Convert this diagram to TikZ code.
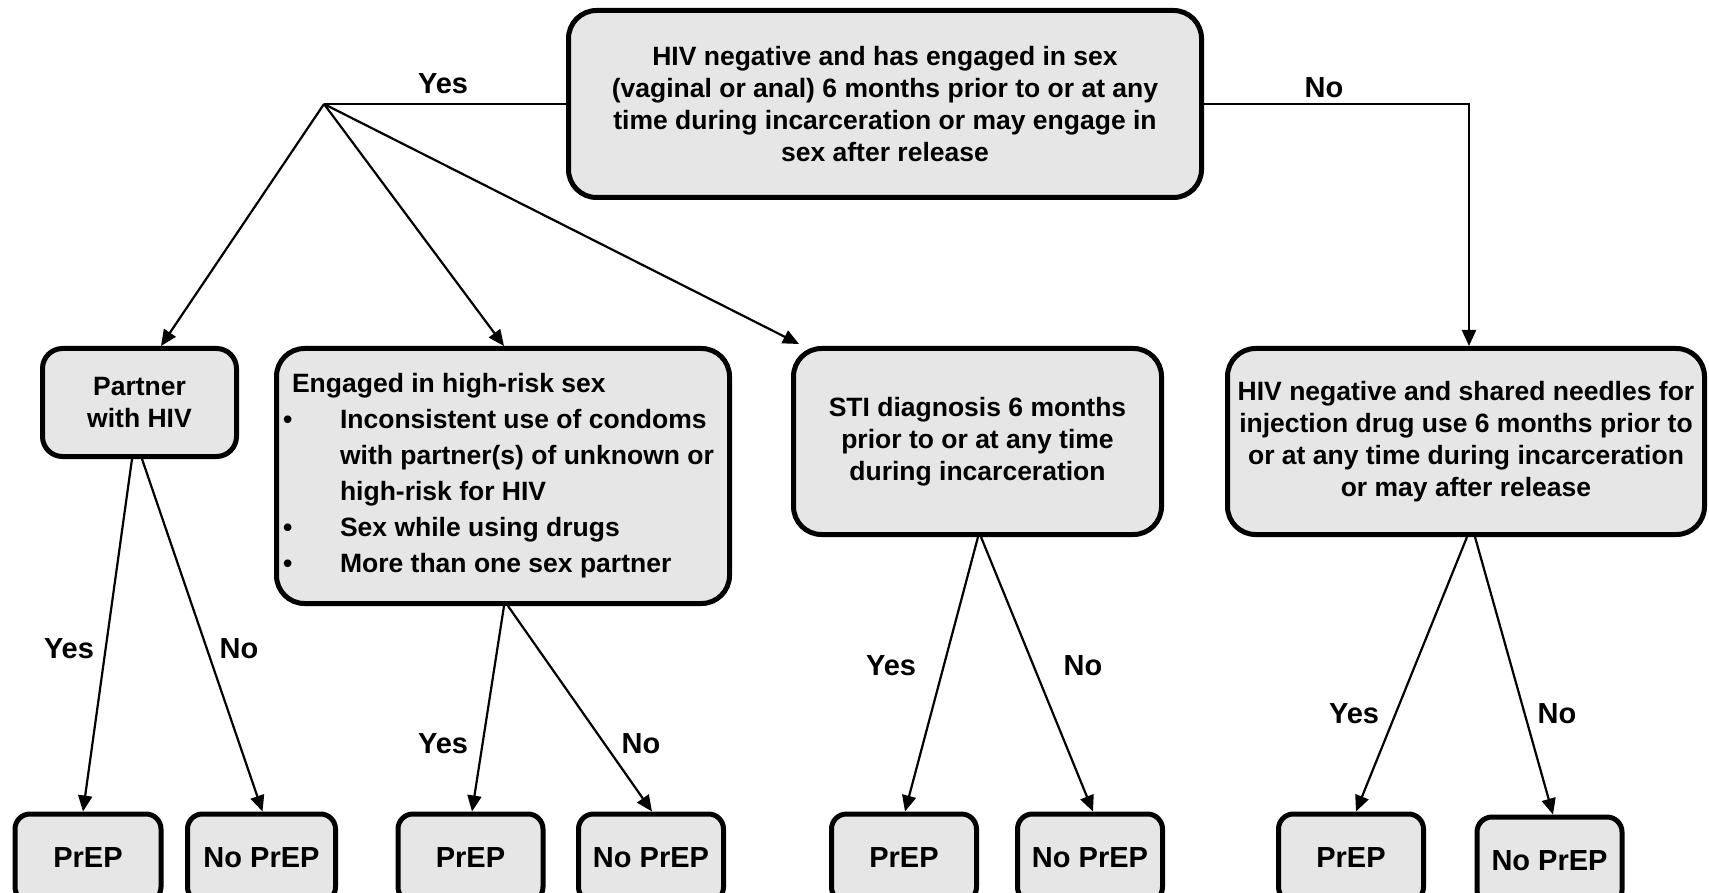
\documentclass[tikz,border=0pt]{standalone}
\usepackage{fontspec}
\setmainfont{Liberation Sans}
\usetikzlibrary{arrows.meta,calc}
\definecolor{boxfill}{HTML}{E6E6E6}
\begin{document}
\begin{tikzpicture}[x=1pt,y=-1pt,
  box/.style={draw=black, line width=5pt, fill=boxfill, rounded corners=28pt,
    font=\fontsize{26.5}{32}\selectfont\bfseries, align=center, inner sep=0pt},
  leaf/.style={box, rounded corners=15pt, minimum width=145pt, minimum height=88pt,
    font=\fontsize{29}{34}\selectfont\bfseries},
  conn/.style={line width=2.2pt, -{Triangle[length=16pt,width=14pt]}},
  plain/.style={line width=2.2pt},
  lbl/.style={font=\fontsize{29}{34}\selectfont\bfseries, inner sep=0pt}]
\useasboundingbox (0,0) rectangle (1709,893);
\clip (0,0) rectangle (1709,893);

% main boxes
\node[box, minimum width=633pt, minimum height=187pt] (top) at (885,104)
  {HIV negative and has engaged in sex\\(vaginal or anal) 6 months prior to or at any\\time during incarceration or may engage in\\sex after release};
\node[box, rounded corners=20pt, minimum width=194pt, minimum height=108pt] (partner) at (139.5,402.5)
  {Partner\\with HIV};
\node[box, minimum width=453pt, minimum height=255pt, align=left,
      font=\fontsize{26.5}{36}\selectfont\bfseries] (eng) at (503,476)
  {Engaged in high-risk sex\\
   \hspace*{-9pt}\makebox[57pt][l]{\textbullet}Inconsistent use of condoms\\
   \hspace*{48pt}with partner(s) of unknown or\\
   \hspace*{48pt}high-risk for HIV\\
   \hspace*{-9pt}\makebox[57pt][l]{\textbullet}Sex while using drugs\\
   \hspace*{-9pt}\makebox[57pt][l]{\textbullet}More than one sex partner};
\node[box, minimum width=368pt, minimum height=186pt] (sti) at (977.5,441.5)
  {STI diagnosis 6 months\\prior to or at any time\\during incarceration};
\node[box, minimum width=477pt, minimum height=186pt] (needle) at (1466,441.5)
  {HIV negative and shared needles for\\injection drug use 6 months prior to\\or at any time during incarceration\\or may after release};

% leaves
\node[leaf, minimum width=146pt] (p1) at (88,858) {PrEP};
\node[leaf, minimum width=148pt] (n1) at (261.5,858) {No PrEP};
\node[leaf] (p2) at (470.5,858) {PrEP};
\node[leaf] (n2) at (651,858) {No PrEP};
\node[leaf] (p3) at (904,858) {PrEP};
\node[leaf] (n3) at (1090,858) {No PrEP};
\node[leaf] (p4) at (1351,858) {PrEP};
\node[leaf] (n4) at (1549.5,861) {No PrEP};

% top connectors
\coordinate (J) at (324,104);
\draw[plain] (top.west) -- (J);
\draw[conn] (J) -- ([xshift=21.5pt]partner.north);
\draw[conn] (J) -- ([xshift=1pt]eng.north);
\draw[conn] (J) -- ([xshift=8pt,yshift=2pt]sti.north west);
\draw[conn] (top.east) -| ([xshift=3pt]needle.north);
\node[lbl] (yes0) at (443,84) {Yes};
\node[lbl] (no0) at (1324,88) {No};

% lower connectors
\draw[conn] ([xshift=-7.5pt]partner.south) -- ([xshift=-5pt]p1.north);
\draw[conn] ([xshift=2.5pt]partner.south) -- ([xshift=1pt]n1.north);
\draw[conn] ([xshift=1pt]eng.south) -- ([xshift=1.5pt]p2.north);
\draw[conn] ([xshift=5pt]eng.south) -- ([xshift=1pt]n2.north);
\draw[conn] ([xshift=0.5pt]sti.south) -- ([xshift=1pt]p3.north);
\draw[conn] ([xshift=3.5pt]sti.south) -- ([xshift=3pt]n3.north);
\draw[conn] ([xshift=1pt]needle.south) -- ([xshift=5pt]p4.north);
\draw[conn] ([xshift=9pt]needle.south) -- ([xshift=3.5pt]n4.north);

\node[lbl] (y1) at (69,649) {Yes};
\node[lbl] (m1) at (239,649) {No};
\node[lbl] (y2) at (443,744) {Yes};
\node[lbl] (m2) at (641,744) {No};
\node[lbl] (y3) at (891,666) {Yes};
\node[lbl] (m3) at (1083,666) {No};
\node[lbl] (y4) at (1354,714) {Yes};
\node[lbl] (m4) at (1557,714) {No};
\end{tikzpicture}
\end{document}
